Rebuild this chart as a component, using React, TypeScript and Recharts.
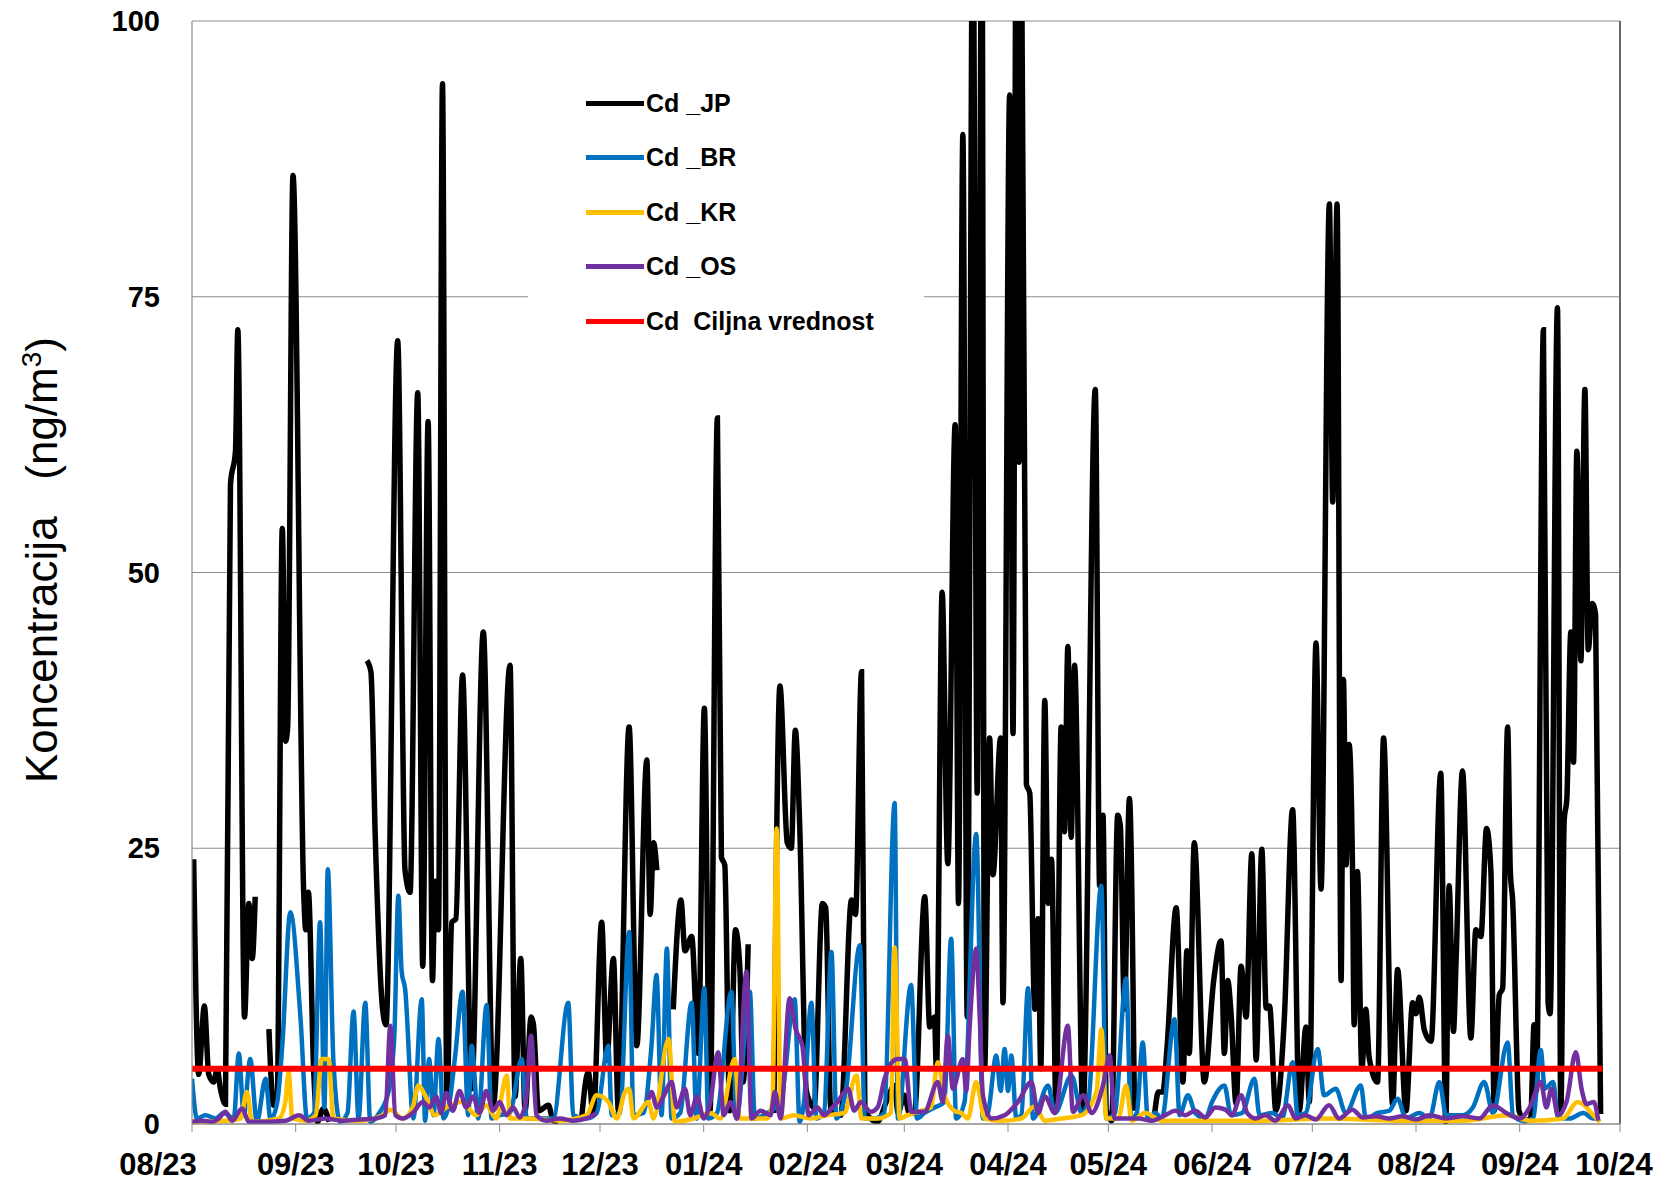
import { LineChart, Line, XAxis, YAxis, CartesianGrid, ReferenceLine } from "recharts";

// ─── Axis ────────────────────────────────────────────────
const MONTH_LABELS = [
  "08/23", "09/23", "10/23", "11/23", "12/23", "01/24", "02/24", "03/24",
  "04/24", "05/24", "06/24", "07/24", "08/24", "09/24", "10/24",
];
// days since 2023-08-01 for each month start
const MONTH_DAYS = [0, 31, 61, 92, 122, 153, 184, 213, 244, 274, 305, 335, 366, 397, 427];
const Y_TICKS = [0, 25, 50, 75, 100];

// ─── Series: [day since 2023-08-01, ng/m3] ───────────────
const CD_JP: [number, number | null][] = [
  [0.5, 24], [2, 4.5], [3.7, 10.7], [5, 4.5], [6.5, 3.8], [7.5, 5], [8.5, 3.2], [10, 1.8],
  [11.5, 58], [13, 61], [13.7, 72], [15.7, 9.7], [17, 20], [18, 15], [18.9, 20.6], [20, null],
  [23, 8.6], [24.4, 1.7], [25.5, 2.6], [27, 54], [28, 34.7], [28.6, 36], [30.2, 86], [33.4, 21],
  [34, 17.6], [34.8, 21], [36.4, 4.7], [37.5, 0.2], [39.3, 1.4], [41, 0.2], [42, null],
  [52.3, 42], [53.5, 41], [54.8, 26], [57, 10.4], [58, 9], [61.5, 71], [63.7, 23], [65.2, 21],
  [67.5, 66.3], [69, 14.3], [70.6, 63.7], [71.9, 13], [72.7, 22], [73.7, 17.6], [74.9, 94.3],
  [76.2, 2.5], [77.7, 18.3], [78.9, 18.6], [80.9, 40.7], [83.6, 3.2], [87.1, 44.6], [90.1, 1.8],
  [95.1, 41.6], [96.6, 2.5], [98.3, 15], [99.6, 1.2], [101.4, 9.7], [102.1, 9], [103.6, 1.2],
  [106.6, 1.7], [108, 0.3], [109.5, 0.2], [110.5, null],
  [116.5, 0.5], [118.5, 4.7], [120, 0.8], [122.5, 18.3], [124, 5.8], [126, 15], [127.5, 1.2],
  [130.7, 36], [133, 7.1], [136, 33], [137, 19], [138, 25.5], [139, 23], [139.5, null],
  [143.9, 10.4], [146.2, 20.3], [147.4, 15.7], [149.4, 17], [151.4, 6.4], [153.2, 37.7],
  [154.9, 1.2], [157.1, 64], [158.3, 24.2], [159.3, 23.5], [160.8, 1.2], [162.5, 17.6],
  [163.8, 14.3], [164.8, 3.8], [166.3, 16.3], [167, null],
  [174, 1], [175.8, 39.7], [178, 25.5], [179.2, 25], [180.4, 35.7], [181.7, 27.2], [183.7, 3],
  [186, 1.5], [188.5, 20], [189.5, 19.6], [191, 1.2], [194, 0.8], [197.2, 20.3], [198.4, 19],
  [200.2, 41], [201.2, 1.2], [205, 0.2], [207.6, 2], [210.1, 3.5], [211.1, 1], [213, 2.6],
  [214.5, 1], [216, 1], [219.1, 20.6], [220.6, 8.8], [222, 9.7], [222.6, 5], [224.3, 48.2],
  [226, 23.6], [228.2, 63.4], [229.2, 20], [230.5, 89.7], [231.8, 9.7], [233.5, 112], [234.8, 30],
  [236.2, 112], [237, 5], [238.5, 35], [239.5, 22.6], [241.8, 35], [242.5, 11], [244.5, 93.3],
  [245.5, 35.4], [246.5, 115], [247.3, 60], [247.9, 115], [249.5, 30.8], [250.5, 30], [252, 10.4],
  [253, 18.6], [253.8, 5], [255, 38.4], [256, 20], [257, 24], [258.4, 1.2], [259.9, 36],
  [260.9, 26.5], [261.9, 43.3], [262.9, 26], [263.9, 41.6], [266.4, 1.2], [270.1, 66.6],
  [271.4, 21.6], [272.4, 28], [273.4, 1.2], [275, 0.3], [276.8, 28], [277.6, 27], [278.8, 10.4],
  [280.3, 29.5], [281.8, 1.2], [283, null],
  [287.8, 0.8], [289, 2.9], [290.3, 2.9], [291.5, 6.7], [294.3, 19.6], [296.3, 3.8], [297.5, 15.7],
  [298.2, 6.4], [299.7, 25.5], [302.7, 3.8], [305.5, 13], [307.7, 16.6], [308.7, 6.4], [309.7, 13],
  [310.7, 10], [312.2, 1.8], [313.7, 14.3], [315.2, 9.7], [316.9, 24.5], [318.2, 5.8], [319.9, 24.9],
  [321.2, 10.5], [322.2, 10.7], [324.1, 1.2], [326.6, 9.4], [329.1, 28.5], [331.1, 1.2], [333.1, 8.8],
  [334.1, 2], [336.1, 43.6], [337.6, 21.3], [340.1, 83.4], [341.1, 56.4], [342.4, 83.4], [343.6, 13],
  [344.3, 40.3], [345.1, 23.5], [346, 34.4], [347, 23.5], [347.5, 9], [348.5, 22.9], [349.8, 5],
  [351, 10.4], [352, 6], [354.5, 3.8], [356.3, 35], [359, 1.8], [360.5, 14], [363, 1.2], [365, 11],
  [366, 10], [367, 11.5], [368.5, 8.5], [370.5, 7.5], [373.4, 31.8], [374.9, 0.2], [375.9, 21.6],
  [377.2, 8.4], [378, 15], [379.9, 32], [382.4, 7.8], [383.9, 17.6], [385.4, 17], [387.1, 26.8],
  [388.4, 22.9], [389.4, 1.2], [390.9, 11.7], [391.9, 12.3], [393.4, 36], [394.2, 22.9],
  [394.9, 20.3], [396.8, 1.2], [398.5, 0.3], [400.3, 0.5], [401.3, 9], [402, 3], [404.1, 72],
  [405.5, 11], [406.1, 10], [408.3, 74], [409.3, 1], [410.3, 27.5], [411.1, 29.5], [412.3, 44.6],
  [413.1, 32.8], [414.1, 61], [415.3, 42], [416.5, 66.6], [417.5, 43], [418.7, 47.2],
  [419.7, 46.2], [421.2, 0.9],
];

const CD_BR: [number, number | null][] = [
  [0, 4.1], [1.5, 0.5], [4, 0.8], [7, 0.5], [9.5, 1], [12.5, 0.5], [14, 6.4], [15.5, 0.8],
  [17.4, 5.9], [19.4, 0.2], [22, 4.1], [23.5, 0.4], [25.5, 2], [27, 7.1], [29.4, 19.2],
  [32.4, 9.8], [34.4, 0.5], [36.5, 1], [38.3, 18.3], [39.6, 1.5], [40.6, 23.1], [42.3, 5.6],
  [44.3, 0.2], [46.5, 1], [48.3, 10.2], [49.8, 0.5], [51.8, 11], [53.3, 0.2], [56, 1], [58.8, 3],
  [60.5, 8], [61.7, 20.7], [62.7, 13.8], [63.7, 12.3], [66.2, 0.5], [68.7, 11.3], [69.7, 0.3],
  [70.9, 5.9], [72.2, 0.8], [73.7, 7.7], [75.2, 0.5], [77, 2], [78.7, 6.2], [80.9, 12], [82.6, 0.8],
  [83.6, 7.1], [85.6, 0.5], [88.1, 10.8], [89.6, 0.5], [92, 0.8], [95, 1], [98.6, 5.9],
  [100.1, 0.5], [104, 0.5], [108, 0.5], [112.5, 11], [114, 0.8], [118, 0.5], [121, 1],
  [124.5, 7.1], [125.5, 0.8], [128, 1], [130.7, 17.4], [132, 0.8], [135, 1], [137.4, 7.1],
  [138.9, 13.5], [140.4, 0.8], [142, 15.9], [143.4, 0.5], [146, 1], [149.4, 11], [150.9, 0.5],
  [153.2, 12.3], [154.4, 0.5], [157, 1], [161.3, 12], [162.8, 0.5], [166.8, 12], [168.3, 0.5],
  [172, 1], [176, 2], [180.2, 11.3], [181.7, 0.2], [183, 2], [185.2, 11], [186.7, 0.5], [189, 1],
  [191.2, 15.6], [192.7, 0.5], [195.6, 3.2], [199.7, 16.2], [201.2, 0.5], [204, 0.5], [207, 1],
  [210.1, 29.1], [211.1, 0.5], [215, 12.6], [216.8, 0.5], [219, 1], [222, 1.5], [225, 2],
  [227, 16.8], [228.5, 0.5], [231, 2], [234.5, 26.3], [236.5, 0.5], [238, 1], [240.5, 6.2],
  [241.8, 3], [243, 6.8], [244, 3], [245, 6.2], [246.5, 0.5], [248, 0.8], [250, 12.3],
  [251.5, 0.5], [256, 3.5], [258, 1], [263, 4.4], [266, 1], [268, 2], [271.9, 21.6], [273.4, 0.5],
  [276, 1], [279.3, 13.2], [280.8, 0.5], [282.5, 1], [284.3, 7.4], [285.8, 0.5], [288, 1],
  [290, 0.5], [293.8, 9.5], [295.3, 0.8], [297.8, 2.6], [300, 1], [303, 0.5], [305, 2],
  [308.7, 3.5], [310.7, 0.8], [314, 1], [317.7, 4.1], [319.2, 0.8], [323, 1], [326, 0.5],
  [329.1, 5.6], [330.6, 0.8], [333, 1], [336.6, 6.8], [338.5, 2.6], [342, 3.2], [345, 1],
  [349.5, 3.5], [351, 0.5], [354.5, 1], [358, 1.2], [360.5, 2.3], [363, 0.5], [367, 1], [370, 0.5],
  [373, 3.8], [375, 0.8], [380, 0.8], [383, 1.5], [386.4, 3.8], [389, 1], [393.4, 7.4], [395, 0.8],
  [398, 0.3], [401, 0.5], [403.3, 6.7], [404.5, 3.2], [407, 3.8], [408.5, 0.5], [412, 0.5],
  [416, 1], [419, 0.5], [421, 0.5],
];

const CD_KR: [number, number | null][] = [
  [0, 0.2], [10, 0.3], [14.5, 0.5], [16.4, 2.9], [18, 0.2], [26, 0.5], [27.9, 2], [28.9, 4.7],
  [30, 0.5], [34, 0.3], [37, 0.8], [38.8, 5.9], [40.8, 5.9], [42.3, 0.5], [50, 0.3], [57, 0.8],
  [59.3, 1.3], [63, 0.5], [66, 1.5], [67.7, 3.5], [69.7, 2.6], [72.7, 0.8], [76, 1.5], [80.7, 2],
  [85, 0.8], [88, 1.7], [91, 0.5], [94.1, 4.4], [95.1, 0.5], [100, 0.5], [110, 0.3], [118, 0.8],
  [121, 2.6], [124.5, 2], [127, 0.5], [129.5, 2.9], [130.7, 3.2], [132, 0.5], [136.5, 2],
  [138, 0.5], [142.5, 7.7], [144.4, 0.2], [150, 0.5], [155, 1], [158, 0.5], [162.3, 5.9],
  [163.8, 0.5], [168, 0.5], [172, 0.5], [173.6, 2], [174.8, 26.8], [176, 0.5], [180, 0.8],
  [185, 0.5], [190, 0.8], [195, 1], [198.7, 4.4], [200.2, 0.5], [205, 0.5], [209, 1], [210.1, 16],
  [211.6, 0.5], [214, 0.8], [218, 1.2], [221, 1.5], [223, 5.6], [225, 2.6], [228, 1.2], [230, 1],
  [232, 0.5], [234.5, 3.8], [237, 0.5], [242, 0.3], [248, 0.5], [252, 1.6], [255, 0.3],
  [260, 0.5], [266, 0.8], [270.5, 3], [271.9, 8.6], [273.4, 0.5], [277, 0.5], [279.3, 3.5],
  [281, 0.3], [285, 1], [290, 0.3], [300, 0.3], [320, 0.3], [340, 0.5], [360, 0.3], [380, 0.3],
  [393.4, 0.8], [400, 0.3], [410, 0.5], [414.3, 2], [416.3, 1.7], [419, 0.8], [421, 0.2],
];

const CD_OS: [number, number | null][] = [
  [0, 0.2], [3, 0.3], [6, 0.2], [8, 0.5], [10, 1.1], [12, 0.3], [15, 1.4], [17, 0.2], [22, 0.2],
  [28, 0.3], [32, 0.8], [35, 0.3], [40, 0.5], [45, 0.3], [50, 0.4], [55, 0.5], [57.8, 0.8],
  [59.3, 8.9], [60.8, 0.8], [63, 0.5], [66, 1], [69, 2], [71, 1.5], [73, 2.5], [74.5, 1],
  [76, 2.8], [78, 1.2], [80, 3], [82, 1.5], [84, 2.5], [86, 1], [88, 3], [90, 1.2], [92, 2],
  [94, 0.8], [96, 1.5], [98, 0.6], [99.8, 2], [101.4, 8], [103, 0.8], [106, 0.3], [110, 0.5],
  [114, 0.3], [118, 0.5], [121, 1], [122.5, null],
  [136.4, 2.2], [137.4, 2.9], [139, 1.5], [141, 2.5], [143.4, 3.8], [145, 1.5], [147.4, 3.2],
  [149, 0.8], [151, 2.5], [153, 0.5], [155, 2], [157.3, 6.5], [159, 0.8], [161, 2], [163, 0.5],
  [165.8, 13.8], [167.3, 0.5], [170, 1.2], [173, 0.8], [174.3, 2.9], [176, 0.5], [178.7, 11.4],
  [180.5, 8.6], [182.5, 7.1], [184.4, 0.8], [187, 1.5], [189, 0.8], [191.2, 1.4], [193, 2],
  [196.2, 3.2], [198, 1.2], [200, 2], [203, 1.1], [205, 1.5], [207.1, 4.1], [209, 5.5],
  [211.1, 5.9], [213.1, 5.9], [215.1, 1.1], [219, 1.1], [223, 3.8], [224.5, 2], [226, 8],
  [227.5, 3.2], [230.5, 5.9], [231.5, 3], [232.5, 8.6], [234.5, 15.9], [235.5, 10], [236.5, 2.6],
  [239, 0.5], [243, 0.8], [247, 2], [251, 3.8], [253, 1], [255, 2.5], [258, 1], [261.9, 8.9],
  [263.4, 1.1], [266.5, 2.6], [269, 1], [272.4, 3.5], [274.4, 6.2], [275.9, 0.5], [279, 0.5],
  [283, 0.5], [287, 0.3], [291, 0.8], [294, 1.2], [297, 0.8], [300, 1.2], [303, 0.6], [306, 1.5],
  [309, 1.3], [311, 0.8], [313.7, 2.6], [315.5, 1], [318, 0.5], [321, 0.8], [324, 0.3],
  [327.7, 1.7], [330, 0.5], [333, 0.8], [336, 0.4], [340, 1.7], [343, 0.5], [347, 1.3], [350, 0.6],
  [354, 0.7], [358, 0.5], [362, 0.7], [366, 0.4], [370, 0.8], [375, 0.5], [380, 0.7], [385, 0.5],
  [389, 1.7], [393, 1], [397, 0.5], [400, 1.5], [403.3, 3.8], [405, 1.5], [406.5, 3.2],
  [408.5, 0.8], [411, 2], [413.8, 6.5], [415.5, 3.2], [417, 1.8], [419.2, 2], [420.5, 0.3],
];

// target value line (Ciljna vrednost)
const CD_TARGET: [number, number][] = [[0, 5], [421.7, 5]];

const SERIES = [
  { name: "Cd _JP", color: "#000000", width: 5.5, points: CD_JP },
  { name: "Cd _BR", color: "#0070C0", width: 4.5, points: CD_BR },
  { name: "Cd _KR", color: "#FFC000", width: 4.5, points: CD_KR },
  { name: "Cd _OS", color: "#7030A0", width: 4.5, points: CD_OS },
  { name: "Cd  Ciljna vrednost", color: "#FF0000", width: 6, points: CD_TARGET },
];

const FONT = "'Liberation Sans', Arial, sans-serif";
const GRID = "#8c8c8c";

function MonthTick({ x, index }: { x: number; index: number }) {
  const shift = index === 0 ? -34 : index === MONTH_LABELS.length - 1 ? -6 : 0;
  return (
    <text
      x={x + shift}
      y={1164}
      textAnchor="middle"
      dominantBaseline="central"
      fontFamily={FONT}
      fontWeight="bold"
      fontSize={31}
      fill="#000"
    >
      {MONTH_LABELS[index]}
    </text>
  );
}

function ValueTick({ y, payload }: { y: number; payload: { value: number } }) {
  return (
    <text
      x={160}
      y={y}
      textAnchor="end"
      dominantBaseline="central"
      fontFamily={FONT}
      fontWeight="bold"
      fontSize={29}
      fill="#000"
    >
      {payload.value}
    </text>
  );
}

export default function App() {
  return (
    <div
      style={{
        position: "relative",
        width: 1666,
        height: 1184,
        margin: "-8px 0 0 -8px",
        background: "#fff",
        fontFamily: FONT,
      }}
    >
      <LineChart width={1666} height={1184} margin={{ top: 21, right: 46, bottom: 20, left: 0 }}>
        <CartesianGrid horizontal vertical={false} stroke={GRID} strokeWidth={1.2} />
        <XAxis
          dataKey="d"
          type="number"
          domain={[0, 427]}
          ticks={MONTH_DAYS}
          interval={0}
          height={40}
          tickSize={8}
          axisLine={{ stroke: GRID, strokeWidth: 1.2 }}
          tickLine={{ stroke: GRID }}
          tick={(p: any) => <MonthTick x={p.x} index={p.index} />}
          allowDataOverflow
        />
        <YAxis
          type="number"
          domain={[0, 100]}
          ticks={Y_TICKS}
          width={192}
          axisLine={{ stroke: GRID, strokeWidth: 1.2 }}
          tickLine={false}
          tick={(p: any) => <ValueTick y={p.y} payload={p.payload} />}
          allowDataOverflow
        />
        <ReferenceLine x={427} stroke="#595959" strokeWidth={1.8} />
        {SERIES.map((s) => (
          <Line
            key={s.name}
            name={s.name}
            data={s.points.map(([d, v]) => ({ d, v }))}
            dataKey="v"
            type="monotone"
            stroke={s.color}
            strokeWidth={s.width}
            dot={false}
            activeDot={false}
            isAnimationActive={false}
          />
        ))}
      </LineChart>

      {/* legend */}
      <div
        style={{
          position: "absolute",
          left: 528,
          top: 66,
          width: 396,
          height: 288,
          background: "#fff",
        }}
      >
        {SERIES.map((s, i) => (
          <div
            key={s.name}
            style={{
              position: "absolute",
              left: 58,
              top: 37 + i * 54.5 - 16,
              height: 32,
              display: "flex",
              alignItems: "center",
              whiteSpace: "pre",
            }}
          >
            <div style={{ width: 58, height: 5, background: s.color, marginRight: 2 }} />
            <span style={{ fontSize: 25, fontWeight: "bold", color: "#000" }}>{s.name}</span>
          </div>
        ))}
      </div>

      {/* y axis title */}
      <div
        style={{
          position: "absolute",
          left: 41,
          top: 560,
          transform: "translate(-50%, -50%) rotate(-90deg)",
          whiteSpace: "pre",
          fontSize: 44,
          color: "#000",
          lineHeight: 1,
        }}
      >
        Koncentracija   (ng/m<sup style={{ fontSize: 28 }}>3</sup>)
      </div>
    </div>
  );
}
